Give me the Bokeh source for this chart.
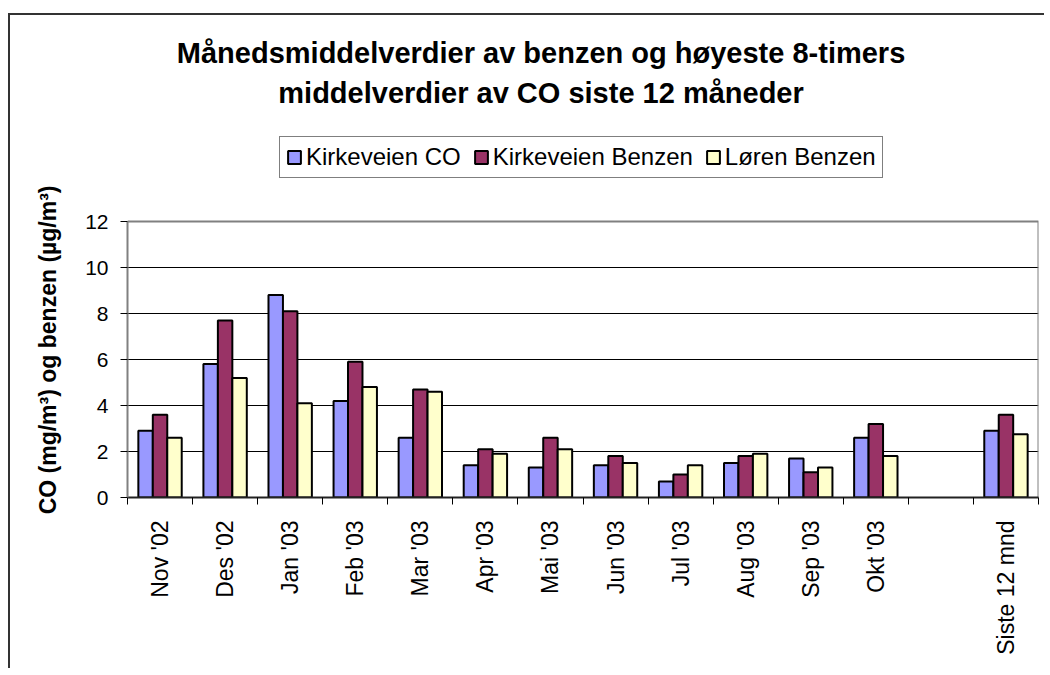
import math
from bokeh.plotting import figure
from bokeh.models import (ColumnDataSource, FixedTicker, Legend, LegendItem, Title, Label, Range1d)
from bokeh.embed import file_html
from bokeh.resources import INLINE

categories = ["Nov '02", "Des '02", "Jan '03", "Feb '03", "Mar '03", "Apr '03", "Mai '03",
              "Jun '03", "Jul '03", "Aug '03", "Sep '03", "Okt '03", "", "Siste 12 mnd"]
kirkeveien_co = [2.9, 5.8, 8.8, 4.2, 2.6, 1.4, 1.3, 1.4, 0.7, 1.5, 1.7, 2.6, None, 2.9]
kirkeveien_benzen = [3.6, 7.7, 8.1, 5.9, 4.7, 2.1, 2.6, 1.8, 1.0, 1.8, 1.1, 3.2, None, 3.6]
loren_benzen = [2.6, 5.2, 4.1, 4.8, 4.6, 1.9, 2.1, 1.5, 1.4, 1.9, 1.3, 1.8, None, 2.75]
series_names = ["Kirkeveien CO", "Kirkeveien Benzen", "Løren Benzen"]
series_colors = ["#9999FF", "#993366", "#FFFFCC"]
y_ticks = [0, 2, 4, 6, 8, 10, 12]
title_lines = ["Månedsmiddelverdier av benzen og høyeste 8-timers",
               "middelverdier av CO siste 12 måneder"]
y_label = "CO (mg/m³) og benzen (µg/m³)"

FONT = "Liberation Sans"
n = len(categories)
centers = [i + 0.5 for i in range(n)]
bar_w = 1 / 4.5

# layout (pixels): canvas is offset by the css margin + border
W, H = 1036, 655
B_LEFT, B_RIGHT, B_BOTTOM = 116, 8, 173
frame_h = H - B_BOTTOM            # frame fills the canvas up to the top
area_h = 276                      # height of the bar area (0..12)
y_max = y_ticks[-1]
y_top = y_max * frame_h / area_h
px_per_unit = area_h / y_max
frame_w = W - B_LEFT - B_RIGHT
px_per_cat = frame_w / n


def ydata(px_from_area_bottom):
    return px_from_area_bottom / px_per_unit


def xdata(px_from_area_left):
    return px_from_area_left / px_per_cat


p = figure(width=W, height=H, x_range=Range1d(0, n), y_range=Range1d(0, y_top),
           output_backend="svg", toolbar_location=None, title=None,
           min_border_left=B_LEFT, min_border_right=B_RIGHT, min_border_top=0,
           min_border_bottom=B_BOTTOM,
           styles={"margin-left": "8px", "margin-top": "13px",
                   "border-left": "2px solid #333333", "border-top": "2px solid #333333"})
p.background_fill_color = "white"
p.border_fill_color = "white"
p.outline_line_color = None

# top and right edge of the plot area
p.line(x=[0, n, n], y=[y_max, y_max, 0], line_color="#808080", line_width=2)

items = []
for k, (vals, name, col) in enumerate(zip([kirkeveien_co, kirkeveien_benzen, loren_benzen],
                                          series_names, series_colors)):
    xs = [c + (k - 1) * bar_w for c, v in zip(centers, vals) if v is not None]
    ys = [v for v in vals if v is not None]
    src = ColumnDataSource(dict(x=xs, top=ys))
    r = p.vbar(x="x", top="top", bottom=0, width=bar_w, source=src,
               fill_color=col, line_color="black", line_width=2)
    items.append(LegendItem(label=name, renderers=[r]))

# y axis
p.yaxis.bounds = (0, y_max)
p.yaxis.ticker = FixedTicker(ticks=y_ticks)
p.yaxis.major_tick_out = 7
p.yaxis.major_tick_in = 0
p.yaxis.minor_tick_out = 0
p.yaxis.minor_tick_in = 0
p.yaxis.axis_line_color = "#808080"
p.yaxis.axis_line_width = 2
p.yaxis.major_tick_line_color = "black"
p.yaxis.major_label_text_font = FONT
p.yaxis.major_label_text_font_size = "21px"
p.yaxis.major_label_text_color = "black"
p.yaxis.major_label_standoff = 12

p.ygrid.ticker = FixedTicker(ticks=y_ticks[1:-1])
p.ygrid.grid_line_color = "black"
p.ygrid.grid_line_width = 1
p.xgrid.visible = False

# y axis title, placed in the left panel
p.add_layout(Title(text=y_label, align="right", offset=170, standoff=44,
                   text_font=FONT, text_font_size="23px", text_font_style="bold",
                   text_color="black"), "left")

# x axis
p.xaxis.ticker = FixedTicker(ticks=centers, minor_ticks=list(range(n + 1)))
p.xaxis.major_label_overrides = {c: lab for c, lab in zip(centers, categories)}
p.xaxis.major_label_orientation = math.pi / 2
p.xaxis.major_tick_out = 0
p.xaxis.major_tick_in = 0
p.xaxis.minor_tick_out = 7
p.xaxis.minor_tick_in = 0
p.xaxis.minor_tick_line_color = "black"
p.xaxis.axis_line_color = "#222222"
p.xaxis.axis_line_width = 2
p.xaxis.major_label_text_font = FONT
p.xaxis.major_label_text_font_size = "23px"
p.xaxis.major_label_text_color = "black"
p.xaxis.major_label_standoff = 16

# chart title (two centred lines above the plot area)
for txt, base_px in zip(title_lines, [445, 405]):
    p.add_layout(Label(x=xdata(414), y=ydata(base_px), text=txt, text_align="center",
                       text_baseline="alphabetic", text_font=FONT, text_font_size="29px",
                       text_font_style="bold", text_color="black"))

legend = Legend(items=items, location=(152, 319), orientation="horizontal",
                label_text_font=FONT, label_text_font_size="24px", label_text_color="black",
                glyph_width=16, glyph_height=16, label_standoff=4, spacing=12,
                padding=6, margin=0, border_line_color="black", border_line_width=1,
                background_fill_color="white", background_fill_alpha=1)
p.add_layout(legend, "center")

open("out.html", "w").write(file_html(p, INLINE))
